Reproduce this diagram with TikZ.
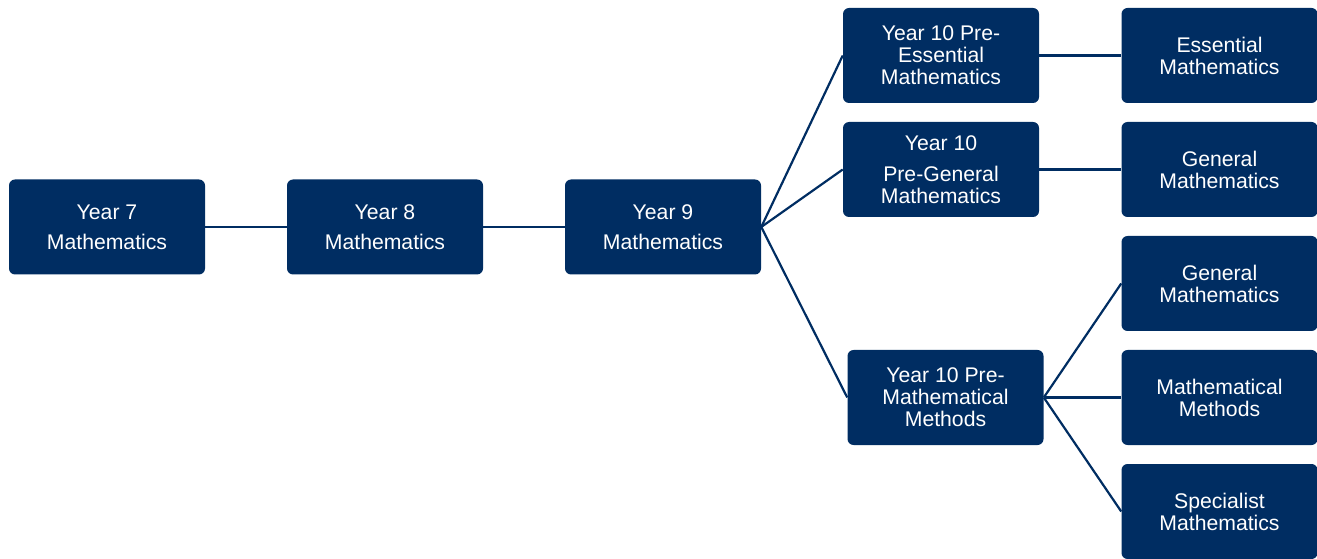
\documentclass[tikz,border=0pt]{standalone}
\usepackage{fontspec}
\setmainfont{Liberation Sans}
\newlength{\du}
\setlength{\du}{0.75pt}
\definecolor{boxcolor}{rgb}{0.000000, 0.176000, 0.384000}
\tikzset{
  pathbox/.style={fill=boxcolor, draw=none, rounded corners=6\du, minimum width=196\du,
    minimum height=95\du, inner sep=0pt, text=white, align=center,
    font=\fontsize{15.9pt}{16.5pt}\selectfont},
  pathline/.style={draw=boxcolor, line width=2.2\du}
}
\begin{document}
\begin{tikzpicture}
\pgftransformyscale{-1.000000}
\useasboundingbox (0\du,0\du) rectangle (1317\du,559\du);
% year 7 to year 9
\node[pathbox] (yseven) at (107.000000\du,227.000000\du){Year 7\\[8\du]Mathematics};
\node[pathbox] (yeight) at (385.000000\du,227.000000\du){Year 8\\[8\du]Mathematics};
\node[pathbox] (ynine) at (663.000000\du,227.000000\du){Year 9\\[8\du]Mathematics};
% year 10
\node[pathbox] (preess) at (941.000000\du,55.500000\du){Year 10 Pre-\\Essential\\Mathematics};
\node[pathbox] (pregen) at (941.000000\du,169.500000\du){Year 10\\[9\du]Pre-General\\Mathematics};
\node[pathbox] (premm) at (945.500000\du,397.500000\du){Year 10 Pre-\\Mathematical\\Methods};
% senior subjects
\node[pathbox] (ess) at (1219.500000\du,55.500000\du){Essential\\Mathematics};
\node[pathbox] (genone) at (1219.500000\du,169.500000\du){General\\Mathematics};
\node[pathbox] (gentwo) at (1219.500000\du,283.500000\du){General\\Mathematics};
\node[pathbox] (mm) at (1219.500000\du,397.500000\du){Mathematical\\Methods};
\node[pathbox] (spec) at (1219.500000\du,511.500000\du){Specialist\\Mathematics};
\draw[pathline] (yseven.east)--(yeight.west);
\draw[pathline] (yeight.east)--(ynine.west);
\draw[pathline] (ynine.east)--(preess.west);
\draw[pathline] (ynine.east)--(pregen.west);
\draw[pathline] (ynine.east)--(premm.west);
\draw[pathline] (preess.east)--(ess.west);
\draw[pathline] (pregen.east)--(genone.west);
\draw[pathline] (premm.east)--(gentwo.west);
\draw[pathline] (premm.east)--(mm.west);
\draw[pathline] (premm.east)--(spec.west);
\end{tikzpicture}
\end{document}
